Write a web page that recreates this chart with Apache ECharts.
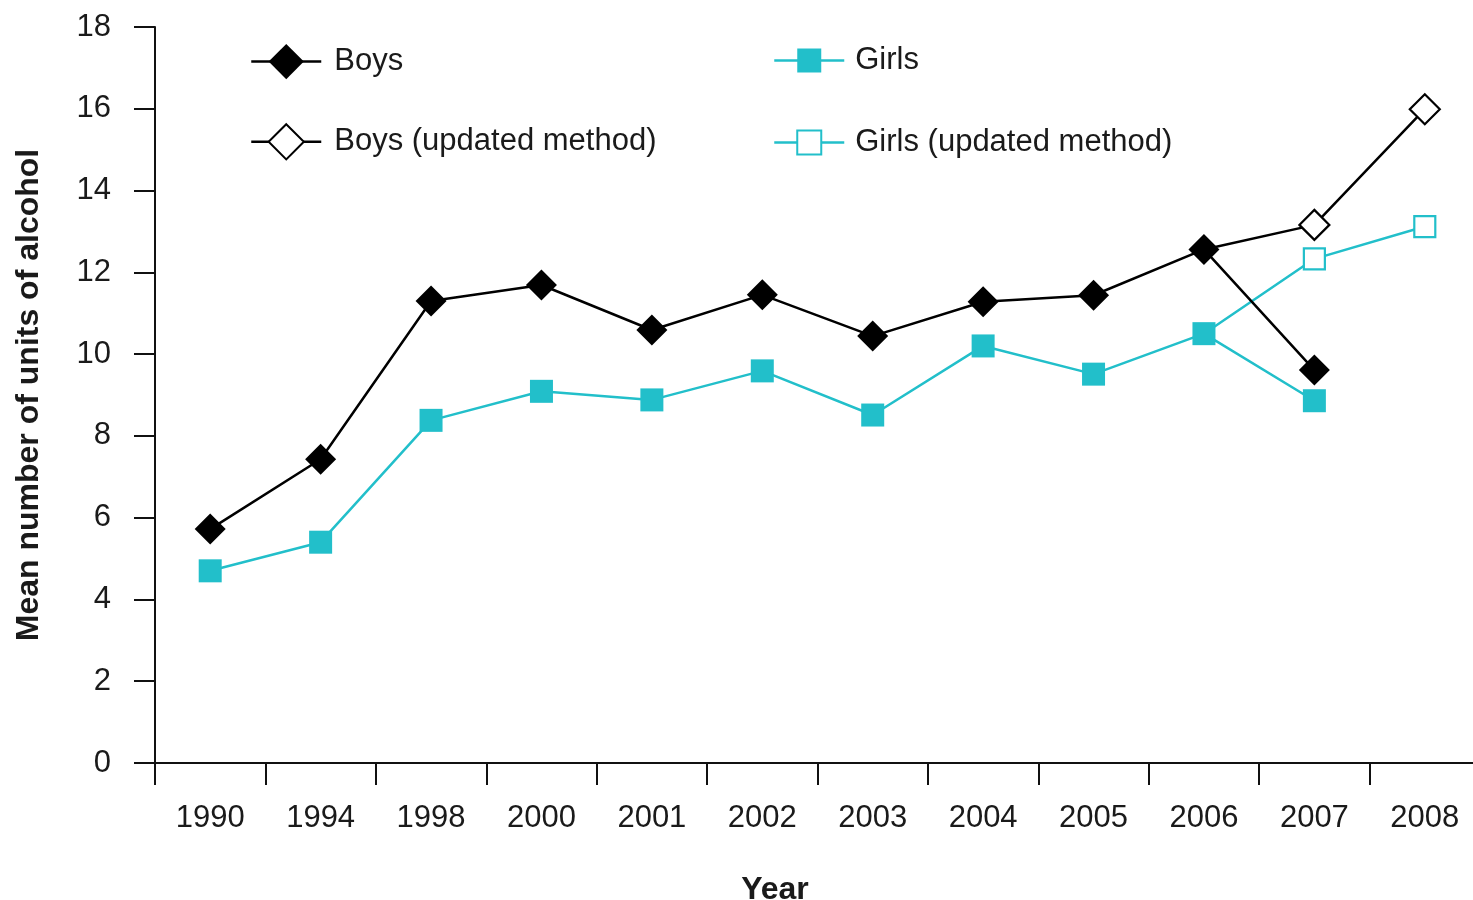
<!DOCTYPE html>
<html>
<head>
<meta charset="utf-8">
<script src="https://cdn.jsdelivr.net/npm/echarts@6/dist/echarts.min.js"></script>
<style>
html,body{margin:0;padding:0;background:#fff;}
#chart{width:1473px;height:900px;}
</style>
</head>
<body>
<div id="chart"></div>
<script>
var years = ['1990','1994','1998','2000','2001','2002','2003','2004','2005','2006','2007','2008'];
var boys = [5.72, 7.43, 11.30, 11.69, 10.59, 11.45, 10.44, 11.28, 11.44, 12.56, 9.61, null];
var boysUpdated = [null, null, null, null, null, null, null, null, null, 12.56, 13.16, 15.99];
var girls = [4.70, 5.40, 8.38, 9.09, 8.88, 9.59, 8.51, 10.20, 9.51, 10.50, 8.86, null];
var girlsUpdated = [null, null, null, null, null, null, null, null, null, 10.50, 12.33, 13.12];
var yTicks = [0, 2, 4, 6, 8, 10, 12, 14, 16, 18];

var FONT = '"Liberation Sans", Arial, Helvetica, sans-serif';
var TEXT = '#1a1a1a';
var TEAL = '#22bfca';

// hide the joint marker of the updated series where it meets the original series
function joinData(arr) {
  var first = true;
  return arr.map(function (v) {
    if (v === null) return null;
    if (first) { first = false; return { value: v, symbol: 'none' }; }
    return v;
  });
}

var chart = echarts.init(document.getElementById('chart'), null, { renderer: 'canvas' });
chart.setOption({
  animation: false,
  backgroundColor: '#fff',
  textStyle: { fontFamily: FONT },
  grid: { left: 155, top: 27, width: 1325, height: 736, containLabel: false, outerBoundsMode: 'none' },
  title: {
    text: 'Year', left: 770, top: 869, textAlign: 'center',
    textStyle: { fontFamily: FONT, fontWeight: 'bold', fontSize: 32, color: TEXT }
  },
  legend: [
    {
      data: ['Boys', 'Boys (updated method)'],
      orient: 'vertical', left: 245, top: 39, itemWidth: 70, itemHeight: 44, itemGap: 44,
      lineStyle: { width: 2.5 },
      textStyle: { fontFamily: FONT, fontSize: 31, color: TEXT, padding: [0, 0, 0, 8] }
    },
    {
      data: ['Girls', 'Girls (updated method)'],
      orient: 'vertical', left: 768, top: 40, itemWidth: 70, itemHeight: 30, itemGap: 51,
      lineStyle: { width: 2.5 },
      textStyle: { fontFamily: FONT, fontSize: 31, color: TEXT, padding: [0, 0, 0, 6] }
    }
  ],
  xAxis: {
    type: 'category', data: years, boundaryGap: true,
    axisLine: { lineStyle: { color: '#111', width: 2 } },
    axisTick: { show: true, length: 22, lineStyle: { color: '#111', width: 2 }, alignWithLabel: false },
    axisLabel: { fontFamily: FONT, fontSize: 31, color: TEXT, margin: 40 },
    splitLine: { show: false }
  },
  yAxis: {
    type: 'value', min: yTicks[0], max: yTicks[yTicks.length - 1], interval: 2,
    name: 'Mean number of units of alcohol', nameLocation: 'middle', nameGap: 110,
    nameTextStyle: { fontFamily: FONT, fontWeight: 'bold', fontSize: 32, color: TEXT },
    axisLine: { show: true, lineStyle: { color: '#111', width: 2 } },
    axisTick: { show: true, length: 21, lineStyle: { color: '#111', width: 2 } },
    axisLabel: { fontFamily: FONT, fontSize: 31, color: TEXT, margin: 44 },
    splitLine: { show: false }
  },
  series: [
    {
      name: 'Boys (updated method)', type: 'line', data: joinData(boysUpdated),
      symbol: 'diamond', symbolSize: 30, connectNulls: false,
      lineStyle: { color: '#000', width: 2.5 },
      itemStyle: { color: '#fff', borderColor: '#000', borderWidth: 2.2 },
      z: 2
    },
    {
      name: 'Girls (updated method)', type: 'line', data: joinData(girlsUpdated),
      symbol: 'rect', symbolSize: 21,
      lineStyle: { color: TEAL, width: 2.5 },
      itemStyle: { color: '#fff', borderColor: TEAL, borderWidth: 2.2 },
      z: 2
    },
    {
      name: 'Boys', type: 'line', data: boys,
      symbol: 'diamond', symbolSize: 31,
      lineStyle: { color: '#000', width: 2.5 },
      itemStyle: { color: '#000', borderColor: '#000', borderWidth: 0 },
      z: 3
    },
    {
      name: 'Girls', type: 'line', data: girls,
      symbol: 'rect', symbolSize: 23,
      lineStyle: { color: TEAL, width: 2.5 },
      itemStyle: { color: TEAL, borderWidth: 0 },
      z: 3
    }
  ]
});
</script>
</body>
</html>
